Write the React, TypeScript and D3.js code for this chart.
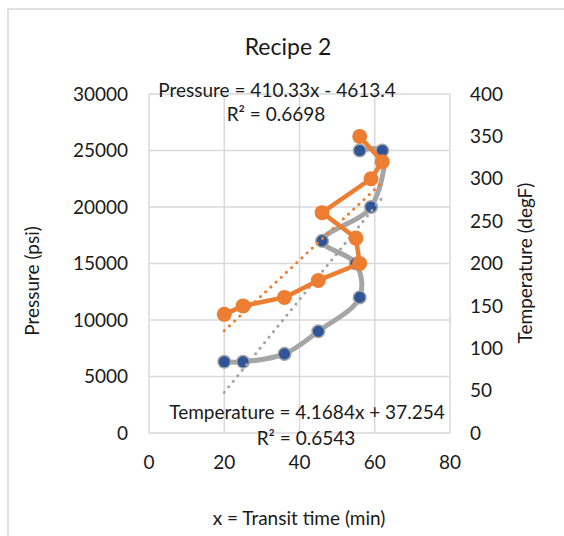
import React from "react";
import * as d3 from "d3";

// time (min) for each sample, in recorded order
const transitTime = [20, 25, 36, 45, 56, 55, 46, 59, 62, 56];
const pressure = [6300, 6300, 7000, 9000, 12000, 15000, 17000, 20000, 25000, 25000];
const temperature = [140, 150, 160, 180, 200, 230, 260, 300, 320, 350];

const xTicks = [0, 20, 40, 60, 80];
const pTicks = [0, 5000, 10000, 15000, 20000, 25000, 30000];
const tTicks = [0, 50, 100, 150, 200, 250, 300, 350, 400];

// Excel trendline coefficients (slope, intercept)
const pressureFit = [410.33, -4613.4];
const tempFit = [4.1684, 37.254];

const W = 564;
const H = 536;
const plot = { left: 149, right: 450, top: 94, bottom: 433 };
const FONT = "Lato, 'Open Sans', sans-serif";
const grid = "#D9D9D9";
const txt = "#1a1a1a";
const FS = 19;

const App = () => {
  const x = d3.scaleLinear().domain([0, 80]).range([plot.left, plot.right]);
  const yP = d3.scaleLinear().domain([0, 30000]).range([plot.bottom, plot.top]);
  const yT = d3.scaleLinear().domain([0, 400]).range([plot.bottom, plot.top]);

  const pts = transitTime.map((t, i) => ({ t, p: pressure[i], temp: temperature[i] }));

  const pLine = d3
    .line<any>()
    .x((d) => x(d.t))
    .y((d) => yP(d.p))
    .curve(d3.curveCatmullRom.alpha(0.5));
  const tLine = d3
    .line<any>()
    .x((d) => x(d.t))
    .y((d) => yT(d.temp));

  const [xMin, xMax] = d3.extent(transitTime) as [number, number];
  const fitLine = (fit, y) =>
    d3.line<number>().x((v) => x(v)).y((v) => y(fit[0] * v + fit[1]))([xMin, xMax]);

  return (
    <svg width={W} height={H} style={{ position: "absolute", left: 0, top: 0, background: "#fff" }} fontFamily={FONT}>
      <rect x={8} y={9} width={600} height={600} fill="#fff" stroke={grid} strokeWidth={1.5} />

      <text x={288} y={47} dy="0.35em" textAnchor="middle" fontSize={23} fill={txt}>Recipe 2</text>

      {/* grid */}
      {xTicks.map((v) => (
        <line key={"gx" + v} x1={x(v)} x2={x(v)} y1={plot.top} y2={plot.bottom} stroke={grid} strokeWidth={1.5} />
      ))}
      {pTicks.map((v) => (
        <line key={"gy" + v} x1={plot.left} x2={plot.right} y1={yP(v)} y2={yP(v)} stroke={grid} strokeWidth={1.5} />
      ))}

      {/* axis labels */}
      {pTicks.map((v) => (
        <text key={"pl" + v} x={128} y={yP(v)} dy="0.35em" textAnchor="end" fontSize={FS} fill={txt}>{v}</text>
      ))}
      {tTicks.map((v) => (
        <text key={"tl" + v} x={470} y={yT(v)} dy="0.35em" textAnchor="start" fontSize={FS} fill={txt}>{v}</text>
      ))}
      {xTicks.map((v) => (
        <text key={"xl" + v} x={x(v)} y={462} dy="0.35em" textAnchor="middle" fontSize={FS} fill={txt}>{v}</text>
      ))}

      <text transform="translate(32,281) rotate(-90)" dy="0.35em" textAnchor="middle" fontSize={FS} fill={txt}>Pressure (psi)</text>
      <text transform="translate(525,263) rotate(-90)" dy="0.35em" textAnchor="middle" fontSize={FS} fill={txt}>Temperature (degF)</text>
      <text x={299} y={518} dy="0.35em" textAnchor="middle" fontSize={FS} fill={txt}>x = Transit time (min)</text>

      {/* pressure series */}
      <path d={pLine(pts)} fill="none" stroke="#A5A5A5" strokeWidth={5} strokeLinejoin="round" />
      {pts.map((d, i) => (
        <circle key={"pp" + i} cx={x(d.t)} cy={yP(d.p)} r={6.3} fill="#2F5597" stroke="#A5A5A5" strokeWidth={1.5} />
      ))}

      {/* trendlines */}
      <path d={fitLine(pressureFit, yP)} fill="none" stroke="#A5A5A5" strokeWidth={3} strokeLinecap="round" strokeDasharray="0.1 7" />

      {/* temperature series */}
      <path d={tLine(pts)} fill="none" stroke="#ED7D31" strokeWidth={4.5} strokeLinejoin="round" />
      {pts.map((d, i) => (
        <circle key={"tp" + i} cx={x(d.t)} cy={yT(d.temp)} r={7.5} fill="#ED7D31" />
      ))}
      <path d={fitLine(tempFit, yT)} fill="none" stroke="#ED7D31" strokeWidth={3} strokeLinecap="round" strokeDasharray="0.1 7" />

      {/* trendline labels */}
      <text x={277} y={90} dy="0.35em" textAnchor="middle" fontSize={FS} fill={txt}>Pressure = 410.33x - 4613.4</text>
      <text x={276} y={114} dy="0.35em" textAnchor="middle" fontSize={FS} fill={txt}>R² = 0.6698</text>
      <text x={307} y={412} dy="0.35em" textAnchor="middle" fontSize={FS} fill={txt}>Temperature = 4.1684x + 37.254</text>
      <text x={306} y={438} dy="0.35em" textAnchor="middle" fontSize={FS} fill={txt}>R² = 0.6543</text>
    </svg>
  );
};

export default App;
